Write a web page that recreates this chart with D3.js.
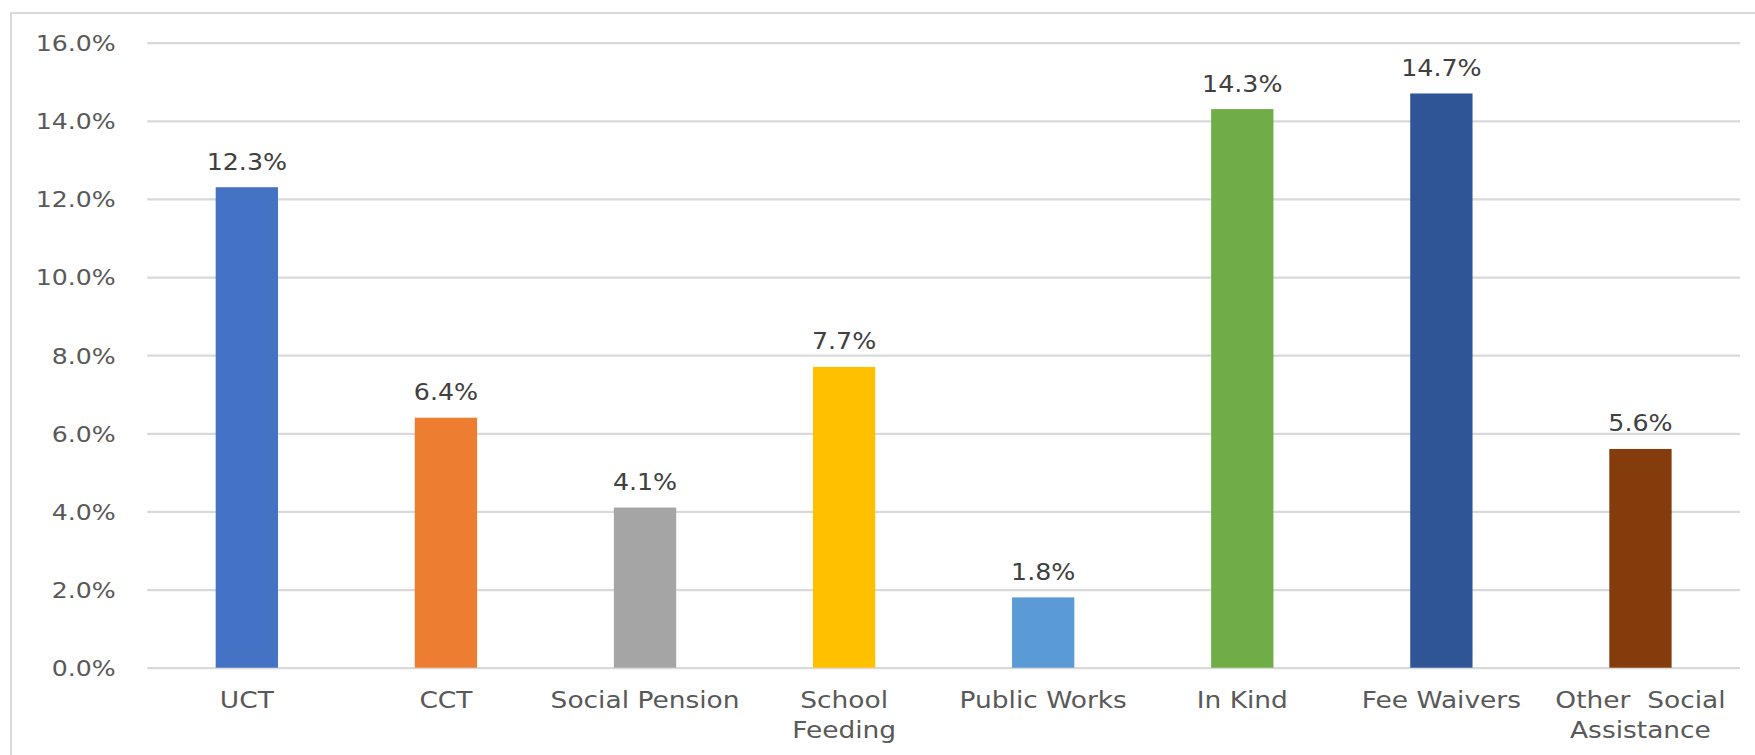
<!DOCTYPE html>
<html>
<head>
<meta charset="utf-8">
<script src="https://cdn.jsdelivr.net/npm/d3@7"></script>
<style>
  body { margin: 0; background: #fff; }
  svg text { font-family: "DejaVu Sans", sans-serif; fill: #595959; }
</style>
</head>
<body>
<svg id="chart" width="1755" height="755"></svg>
<script>
// Share of spending by social assistance programme
const categories = ["UCT", "CCT", "Social Pension", "School\nFeeding", "Public Works", "In Kind", "Fee Waivers", "Other  Social\nAssistance"];
const shares = [0.123, 0.064, 0.041, 0.077, 0.018, 0.143, 0.147, 0.056];
const barColors = ["#4472C4", "#ED7D31", "#A5A5A5", "#FFC000", "#5B9BD5", "#70AD47", "#2F5597", "#843C0C"];
const yTicks = [0, 0.02, 0.04, 0.06, 0.08, 0.10, 0.12, 0.14, 0.16];

const svg = d3.select("#chart");
const W = 1755, H = 755;
const plot = { left: 147.3, right: 1740, top: 42.7, bottom: 667.7 };
const fmt = d3.format(".1%");

// outer frame (top and left edges)
svg.append("path")
  .attr("d", `M11,${H} V13 H${W}`)
  .attr("fill", "none")
  .attr("stroke", "#d9d9d9")
  .attr("stroke-width", 2);

const x = d3.scaleBand()
  .domain(categories)
  .range([plot.left, plot.right])
  .paddingInner(0.687)
  .paddingOuter(0.687 / 2);

const y = d3.scaleLinear()
  .domain([0, 0.16])
  .range([plot.bottom, plot.top]);

// gridlines + value axis labels
const yAxis = svg.append("g")
  .attr("transform", `translate(${plot.left},0)`)
  .call(d3.axisLeft(y).tickValues(yTicks).tickFormat(fmt)
    .tickSize(-(plot.right - plot.left)));
yAxis.select(".domain").remove();
yAxis.selectAll(".tick line")
  .attr("stroke", "#d9d9d9")
  .attr("stroke-width", 2.2);
yAxis.selectAll(".tick text")
  .attr("x", null)
  .attr("dy", null)
  .attr("transform", "translate(-31.5,7.8) scale(1.2,1)")
  .attr("text-anchor", "end")
  .style("font-size", "21px")
  .style("font-family", "'DejaVu Sans', sans-serif")
  .style("fill", "#595959");

// bars
svg.append("g").selectAll("rect")
  .data(shares)
  .join("rect")
  .attr("x", (d, i) => x(categories[i]))
  .attr("width", x.bandwidth())
  .attr("y", d => y(d))
  .attr("height", d => y(0) - y(d))
  .attr("fill", (d, i) => barColors[i]);

// value labels above bars
svg.append("g").selectAll("text")
  .data(shares)
  .join("text")
  .attr("transform", (d, i) =>
    `translate(${x(categories[i]) + x.bandwidth() / 2},${y(d) - 17.5}) scale(1.1,1)`)
  .attr("text-anchor", "middle")
  .style("font-size", "23px")
  .style("fill", "#404040")
  .text(d => fmt(d));

// category labels, wrapped on explicit line breaks
const catG = svg.append("g").selectAll("text")
  .data(categories)
  .join("text")
  .attr("transform", d =>
    `translate(${x(d) + x.bandwidth() / 2},708.3) scale(1.15,1)`)
  .attr("text-anchor", "middle")
  .attr("xml:space", "preserve")
  .style("white-space", "pre")
  .style("font-size", "23px");
catG.each(function (d) {
  const t = d3.select(this);
  d.split("\n").forEach((line, k) => {
    t.append("tspan")
      .attr("x", 0)
      .attr("y", k * 30)
      .text(line);
  });
});
</script>
</body>
</html>
